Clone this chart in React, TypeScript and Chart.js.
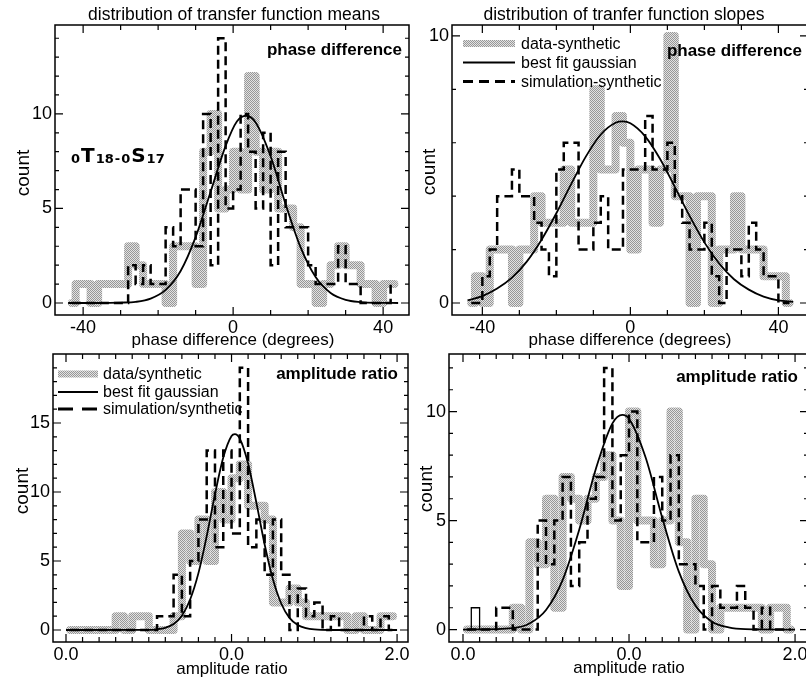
import React, { useEffect, useRef } from 'react';
import { Chart, registerables } from 'chart.js';

Chart.register(...registerables);

const SANS = "'Liberation Sans', Arial, Helvetica, sans-serif";
Chart.defaults.font.family = SANS;
Chart.defaults.color = '#000';

// ---------- histogram bins ----------
const phaseBinFirst = -43; // centre of the first 2-degree bin
const phaseBinWidth = 2;
const ampBinFirst = 0.025; // centre of the first 0.05 bin
const ampBinWidth = 0.05;

// ---------- transfer function means: phase difference ----------
const meanPhaseData = [0, 1, 1, 0, 1, 1, 1, 1, 3, 2, 1, 1, 1, 0, 3, 3, 3, 1, 8, 10, 5, 6,
  8, 6, 12, 8, 6, 8, 5, 5, 4, 1, 1, 0, 1, 2, 3, 2, 2, 1, 1, 0, 1, 1];
const meanPhaseSim = [0, 0, 0, 0, 0, 0, 0, 0, 2, 1, 2, 1, 1, 4, 3, 6, 6, 3, 10, 2, 14, 5,
  6, 10, 8, 5, 9, 2, 8, 4, 4, 4, 2, 1, 1, 1, 3, 1, 1, 0, 0, 0, 0, 1];
const meanPhaseFitX = [-44, -36, -30, -26, -22, -18, -14, -10, -6, -2, 1, 3.5, 6, 10, 14, 18, 22, 26, 30, 34, 38, 44];
const meanPhaseFitY = [0, 0, 0.02, 0.06, 0.23, 0.69, 1.69, 3.48, 5.88, 8.31, 9.6, 9.9, 9.55, 7.76, 5.22, 2.94, 1.37, 0.53, 0.17, 0.05, 0.01, 0];

// ---------- transfer function slopes: phase difference ----------
const slopePhaseData = [0, 1, 0, 2, 2, 2, 0, 2, 2, 4, 3, 3, 3, 5, 3, 3, 3, 8, 5, 5, 7, 6,
  2, 5, 5, 3, 5, 10, 4, 4, 0, 4, 4, 0, 2, 2, 4, 2, 2, 2, 1, 1, 1, 0];
const slopePhaseSim = [0, 0, 1, 2, 4, 4, 5, 4, 4, 3, 2, 1, 5, 6, 6, 2, 2, 3, 4, 2, 2, 5,
  5, 5, 7, 5, 5, 6, 4, 3, 2, 2, 3, 1, 0, 2, 2, 1, 3, 2, 1, 1, 0, 0];
const slopePhaseFitX = [-44, -40, -36, -32, -28, -24, -20, -16, -12, -8, -4, -2, 0, 4, 8, 12, 16, 20, 24, 28, 32, 36, 40, 44];
const slopePhaseFitY = [0.1, 0.26, 0.54, 0.95, 1.55, 2.37, 3.36, 4.45, 5.49, 6.31, 6.75, 6.8, 6.73, 6.24, 5.4, 4.35, 3.26, 2.27, 1.48, 0.89, 0.5, 0.24, 0.1, 0.04];

// ---------- transfer function means: amplitude ratio ----------
const meanAmpData = [0, 0, 0, 0, 0, 0, 1, 0, 1, 1, 0, 0, 0, 1, 7, 5, 8, 5, 10, 8,
  11, 12, 9, 9, 8, 2, 2, 3, 2, 1, 1, 1, 1, 1, 0, 1, 0, 0, 1, 1];
const meanAmpSim = [0, 0, 0, 0, 0, 0, 0, 0, 0, 0, 0, 1, 1, 4, 1, 5, 8, 13, 6, 13,
  7, 19, 6, 8, 4, 8, 4, 0, 3, 1, 2, 0, 1, 0, 0, 0, 1, 0, 1, 0];
const meanAmpFitX = [0, 0.5, 0.55, 0.6, 0.65, 0.7, 0.75, 0.8, 0.85, 0.9, 0.95, 1.0, 1.02, 1.05, 1.1, 1.15, 1.2, 1.25, 1.3, 1.35, 1.4, 1.45, 1.5, 1.6, 2.0];
const meanAmpFitY = [0, 0.01, 0.05, 0.16, 0.43, 1.04, 2.21, 4.12, 6.8, 9.83, 12.5, 14.06, 14.2, 13.87, 12.06, 9.23, 6.2, 3.67, 1.92, 0.88, 0.36, 0.13, 0.04, 0, 0];

// ---------- transfer function slopes: amplitude ratio ----------
const slopeAmpData = [0, 0, 0, 0, 0, 0, 1, 0, 4, 3, 6, 1, 7, 6, 5, 6, 7, 8, 5, 2,
  10, 5, 5, 3, 5, 10, 4, 0, 6, 3, 0, 1, 1, 1, 1, 1, 0, 1, 1, 0];
const slopeAmpSim = [0, 0, 0, 0, 1, 1, 0, 0, 0, 5, 3, 5, 7, 2, 4, 6, 7, 12, 5, 8,
  10, 4, 4, 7, 5, 8, 3, 3, 2, 0, 2, 1, 1, 2, 1, 0, 1, 0, 0, 0];
const slopeAmpOutline = [0, 1, 0];
const slopeAmpFitX = [0, 0.3, 0.4, 0.5, 0.6, 0.7, 0.8, 0.9, 0.96, 1.0, 1.1, 1.2, 1.3, 1.4, 1.5, 1.6, 1.7, 2.0];
const slopeAmpFitY = [0, 0.07, 0.28, 0.9, 2.27, 4.58, 7.37, 9.46, 9.85, 9.67, 7.89, 5.13, 2.66, 1.1, 0.36, 0.1, 0.02, 0];

// ---------- axis ticks ----------
const phaseTicks = [-40, -30, -20, -10, 0, 10, 20, 30, 40];
const phaseTickLabelAt = [-40, 0, 40];
const phaseTickLabels = ['-40', '0', '40'];
const ampTicks = Array.from({ length: 21 }, (_, i) => i / 10);
const ampTickLabelAt = [0, 1, 2];
const ampTickLabels = ['0.0', '0.0', '2.0'];
const range = (a: number, b: number, s: number) => {
  const out: number[] = [];
  for (let v = a; v <= b + 1e-9; v += s) out.push(v);
  return out;
};

const CANVAS_W = 840;
const CANVAS_H = 679;
const Y_AXIS_W = 45;
const X_AXIS_H = 30;

type Pt = { x: number; y: number };
const hist = (first: number, width: number, counts: number[]): Pt[] =>
  counts.map((c, i) => ({ x: first + i * width, y: c }));
const curve = (xs: number[], ys: number[]): Pt[] => xs.map((x, i) => ({ x, y: ys[i] }));

interface LegendSpec {
  x0: number; x1: number; textX: number; rows: number[]; labels: string[]; dash: number[];
}
interface PanelSpec {
  frame: { l: number; t: number; r: number; b: number };
  xMin: number; xMax: number; xTicks: number[]; xLabelAt: number[]; xLabels: string[];
  yMin: number; yMax: number; yTicks: number[]; yLabelAt: number[];
  binFirst: number; binWidth: number;
  data: number[]; sim: number[]; fitX: number[]; fitY: number[]; outline?: number[];
  title?: { text: string; x: number; y: number };
  tag: { text: string; right: number; baseline: number };
  xTitle: { text: string; x: number; y: number };
  yTitle: { x: number; y: number };
  legend?: LegendSpec;
  modeLabel?: { x: number; baseline: number };
}

const panels: PanelSpec[] = [
  {
    frame: { l: 55, t: 25, r: 409, b: 315 },
    xMin: -47.5, xMax: 46.9, xTicks: phaseTicks, xLabelAt: phaseTickLabelAt, xLabels: phaseTickLabels,
    yMin: -0.635, yMax: 14.7, yTicks: range(0, 14, 1), yLabelAt: [0, 5, 10],
    binFirst: phaseBinFirst, binWidth: phaseBinWidth,
    data: meanPhaseData, sim: meanPhaseSim, fitX: meanPhaseFitX, fitY: meanPhaseFitY,
    title: { text: 'distribution of transfer function means', x: 234, y: 15 },
    tag: { text: 'phase difference', right: 402, baseline: 54.5 },
    xTitle: { text: 'phase difference (degrees)', x: 233, y: 340 },
    yTitle: { x: 24, y: 173 },
    modeLabel: { x: 71, baseline: 162 },
  },
  {
    frame: { l: 452, t: 25, r: 808, b: 315 },
    xMin: -48.2, xMax: 48.0, xTicks: phaseTicks, xLabelAt: phaseTickLabelAt, xLabels: phaseTickLabels,
    yMin: -0.45, yMax: 10.41, yTicks: range(0, 10, 2), yLabelAt: [0, 10],
    binFirst: phaseBinFirst, binWidth: phaseBinWidth,
    data: slopePhaseData, sim: slopePhaseSim, fitX: slopePhaseFitX, fitY: slopePhaseFitY,
    title: { text: 'distribution of tranfer function slopes', x: 624, y: 15 },
    tag: { text: 'phase difference', right: 802, baseline: 56 },
    xTitle: { text: 'phase difference (degrees)', x: 630, y: 340 },
    yTitle: { x: 430, y: 172 },
    legend: {
      x0: 463, x1: 515, textX: 521, rows: [43.5, 62.5, 81.5], dash: [10, 6],
      labels: ['data-synthetic', 'best fit gaussian', 'simulation-synthetic'],
    },
  },
  {
    frame: { l: 53, t: 354, r: 408, b: 642 },
    xMin: -0.0785, xMax: 2.066, xTicks: ampTicks, xLabelAt: ampTickLabelAt, xLabels: ampTickLabels,
    yMin: -0.87, yMax: 20.0, yTicks: range(0, 19, 1), yLabelAt: [0, 5, 10, 15],
    binFirst: ampBinFirst, binWidth: ampBinWidth,
    data: meanAmpData, sim: meanAmpSim, fitX: meanAmpFitX, fitY: meanAmpFitY,
    tag: { text: 'amplitude ratio', right: 398, baseline: 378.5 },
    xTitle: { text: 'amplitude ratio', x: 232, y: 669 },
    yTitle: { x: 23, y: 491 },
    legend: {
      x0: 58, x1: 98, textX: 103, rows: [374, 392, 409], dash: [15, 9],
      labels: ['data/synthetic', 'best fit gaussian', 'simulation/synthetic'],
    },
  },
  {
    frame: { l: 449, t: 354, r: 808, b: 642 },
    xMin: -0.0843, xMax: 2.078, xTicks: ampTicks, xLabelAt: ampTickLabelAt, xLabels: ampTickLabels,
    yMin: -0.57, yMax: 12.64, yTicks: range(0, 12, 1), yLabelAt: [0, 5, 10],
    binFirst: ampBinFirst, binWidth: ampBinWidth,
    data: slopeAmpData, sim: slopeAmpSim, fitX: slopeAmpFitX, fitY: slopeAmpFitY, outline: slopeAmpOutline,
    tag: { text: 'amplitude ratio', right: 798, baseline: 382 },
    xTitle: { text: 'amplitude ratio', x: 629, y: 668 },
    yTitle: { x: 427, y: 489 },
  },
];

// Light grey halftone used for the data histograms
function makeStipple(ctx: CanvasRenderingContext2D): CanvasPattern | string {
  const tile = document.createElement('canvas');
  tile.width = 2;
  tile.height = 2;
  const g = tile.getContext('2d');
  if (!g) return '#bcbcbc';
  g.fillStyle = '#e2e2e2';
  g.fillRect(0, 0, 2, 2);
  g.fillStyle = '#979797';
  g.fillRect(0, 0, 1, 1);
  g.fillRect(1, 1, 1, 1);
  return ctx.createPattern(tile, 'repeat') || '#bcbcbc';
}

const labelFor = (v: number, at: number[], texts: string[]) => {
  const i = at.findIndex((a) => Math.abs(a - v) < 1e-6);
  return i >= 0 ? texts[i] : '';
};

// Box frame, inward tick marks and the panel annotations
function decorPlugin(p: PanelSpec, stipple: CanvasPattern | string) {
  return {
    id: 'panelDecor',
    afterDraw(chart: any) {
      const { ctx, chartArea: a } = chart;
      const xs = chart.scales.x;
      const ys = chart.scales.y;
      ctx.save();
      ctx.setLineDash([]);
      ctx.strokeStyle = '#000';
      ctx.lineWidth = 1.5;
      ctx.strokeRect(a.left, a.top, a.right - a.left, a.bottom - a.top);

      ctx.lineWidth = 1.2;
      ctx.beginPath();
      for (const t of xs.ticks) {
        const px = xs.getPixelForValue(t.value);
        const len = t.label ? 8 : 5;
        ctx.moveTo(px, a.bottom);
        ctx.lineTo(px, a.bottom - len);
        ctx.moveTo(px, a.top);
        ctx.lineTo(px, a.top + len);
      }
      for (const t of ys.ticks) {
        const py = ys.getPixelForValue(t.value);
        const len = t.label ? 8 : 4;
        ctx.moveTo(a.left, py);
        ctx.lineTo(a.left + len, py);
        ctx.moveTo(a.right, py);
        ctx.lineTo(a.right - len, py);
      }
      ctx.stroke();

      ctx.fillStyle = '#000';
      if (p.title) {
        ctx.font = `17.5px ${SANS}`;
        ctx.textAlign = 'center';
        ctx.textBaseline = 'middle';
        ctx.fillText(p.title.text, p.title.x, p.title.y);
      }

      ctx.font = `bold 17px ${SANS}`;
      ctx.textAlign = 'right';
      ctx.textBaseline = 'alphabetic';
      ctx.fillText(p.tag.text, p.tag.right, p.tag.baseline);

      ctx.font = `17px ${SANS}`;
      ctx.textAlign = 'center';
      ctx.textBaseline = 'middle';
      ctx.fillText(p.xTitle.text, p.xTitle.x, p.xTitle.y);

      ctx.save();
      ctx.translate(p.yTitle.x, p.yTitle.y);
      ctx.rotate(-Math.PI / 2);
      ctx.font = `19px ${SANS}`;
      ctx.fillText('count', 0, 0);
      ctx.restore();

      if (p.modeLabel) {
        const parts: [string, boolean][] = [
          ['0', false], ['T', true], ['18', false], ['-', false], ['0', false], ['S', true], ['17', false],
        ];
        let x = p.modeLabel.x;
        ctx.textAlign = 'left';
        ctx.textBaseline = 'alphabetic';
        for (const [txt, big] of parts) {
          ctx.font = big ? "bold 20px 'DejaVu Sans', sans-serif" : "bold 13px 'DejaVu Sans', sans-serif";
          ctx.fillText(txt, x, p.modeLabel.baseline + (big ? 0 : 1));
          x += ctx.measureText(txt).width + 1;
        }
      }

      if (p.legend) {
        const L = p.legend;
        ctx.lineCap = 'butt';
        // grey sample
        ctx.strokeStyle = stipple as any;
        ctx.lineWidth = 7;
        ctx.beginPath();
        ctx.moveTo(L.x0, L.rows[0]);
        ctx.lineTo(L.x1, L.rows[0]);
        ctx.stroke();
        // solid sample
        ctx.strokeStyle = '#000';
        ctx.lineWidth = 2;
        ctx.beginPath();
        ctx.moveTo(L.x0, L.rows[1]);
        ctx.lineTo(L.x1, L.rows[1]);
        ctx.stroke();
        // dashed sample
        ctx.lineWidth = 3;
        ctx.setLineDash(L.dash);
        ctx.beginPath();
        ctx.moveTo(L.x0, L.rows[2]);
        ctx.lineTo(L.x1, L.rows[2]);
        ctx.stroke();
        ctx.setLineDash([]);
        ctx.font = `16px ${SANS}`;
        ctx.textAlign = 'left';
        ctx.textBaseline = 'middle';
        L.labels.forEach((s, i) => ctx.fillText(s, L.textX, L.rows[i] + 1));
      }
      ctx.restore();
    },
  };
}

function buildChart(canvas: HTMLCanvasElement, p: PanelSpec): Chart {
  const ctx = canvas.getContext('2d') as CanvasRenderingContext2D;
  const stipple = makeStipple(ctx);
  const datasets: any[] = [
    {
      label: 'data', data: hist(p.binFirst, p.binWidth, p.data), stepped: 'middle',
      borderColor: stipple, borderWidth: 8, borderJoinStyle: 'round', borderCapStyle: 'round',
      pointRadius: 0, order: 3,
    },
    {
      label: 'simulation', data: hist(p.binFirst, p.binWidth, p.sim), stepped: 'middle',
      borderColor: '#000', borderWidth: 2.5, borderDash: [9, 5], pointRadius: 0, order: 2,
    },
    {
      label: 'best fit gaussian', data: curve(p.fitX, p.fitY), borderColor: '#000', borderWidth: 1.8,
      cubicInterpolationMode: 'monotone', pointRadius: 0, order: 1,
    },
  ];
  if (p.outline) {
    datasets.push({
      label: 'outline', data: hist(p.binFirst, p.binWidth, p.outline), stepped: 'middle',
      borderColor: '#000', borderWidth: 1.3, pointRadius: 0, order: 0,
    });
  }
  const f = p.frame;
  return new Chart(canvas, {
    type: 'line',
    data: { datasets },
    options: {
      responsive: false,
      animation: false,
      events: [],
      layout: {
        padding: { left: f.l - Y_AXIS_W, top: f.t, right: CANVAS_W - f.r, bottom: CANVAS_H - f.b - X_AXIS_H },
      },
      plugins: { legend: { display: false }, tooltip: { enabled: false } },
      scales: {
        x: {
          type: 'linear', min: p.xMin, max: p.xMax,
          grid: { display: false, drawTicks: false }, border: { display: false },
          afterBuildTicks: (s: any) => { s.ticks = p.xTicks.map((v) => ({ value: v })); },
          afterFit: (s: any) => { s.height = X_AXIS_H; },
          ticks: {
            autoSkip: false, maxRotation: 0, minRotation: 0, padding: 2, color: '#000',
            font: { size: 18, family: SANS },
            callback: (v: any) => labelFor(Number(v), p.xLabelAt, p.xLabels),
          },
        },
        y: {
          type: 'linear', min: p.yMin, max: p.yMax,
          grid: { display: false, drawTicks: false }, border: { display: false },
          afterBuildTicks: (s: any) => { s.ticks = p.yTicks.map((v) => ({ value: v })); },
          afterFit: (s: any) => { s.width = Y_AXIS_W; },
          ticks: {
            autoSkip: false, padding: 3, color: '#000',
            font: { size: 18, family: SANS },
            callback: (v: any) => labelFor(Number(v), p.yLabelAt, p.yLabelAt.map(String)),
          },
        },
      },
    } as any,
    plugins: [decorPlugin(p, stipple)],
  });
}

export default function App() {
  const r0 = useRef<HTMLCanvasElement>(null);
  const r1 = useRef<HTMLCanvasElement>(null);
  const r2 = useRef<HTMLCanvasElement>(null);
  const r3 = useRef<HTMLCanvasElement>(null);
  const refs = [r0, r1, r2, r3];

  useEffect(() => {
    const charts = panels.map((p, i) => buildChart(refs[i].current as HTMLCanvasElement, p));
    return () => charts.forEach((c) => c.destroy());
  }, []);

  return (
    <div
      style={{
        position: 'fixed', left: 0, top: 0, width: 806, height: 679,
        overflow: 'hidden', background: '#fff',
      }}
    >
      {refs.map((r, i) => (
        <canvas
          key={i}
          ref={r}
          width={CANVAS_W}
          height={CANVAS_H}
          style={{ position: 'absolute', left: 0, top: 0, width: CANVAS_W, height: CANVAS_H }}
        />
      ))}
    </div>
  );
}
